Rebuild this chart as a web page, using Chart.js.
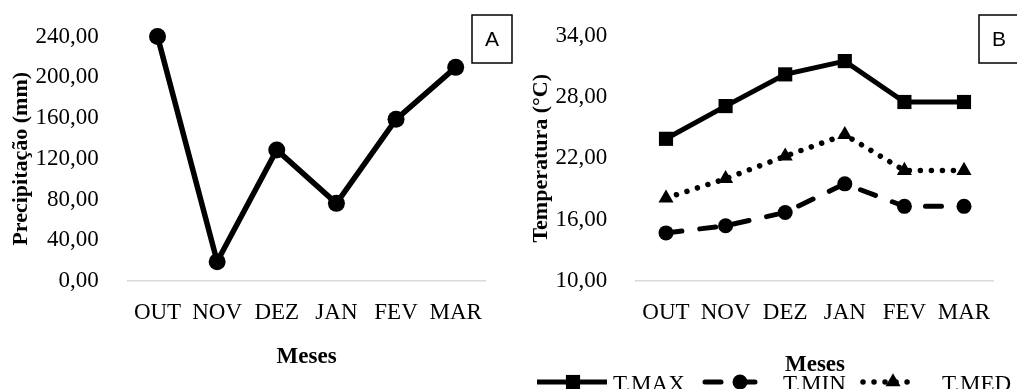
<!DOCTYPE html>
<html>
<head>
<meta charset="utf-8">
<script src="https://cdn.jsdelivr.net/npm/chart.js@4/dist/chart.umd.min.js"></script>
<style>
  html, body { margin: 0; padding: 0; background: #fff; overflow: hidden; }
  #wrapA { position: absolute; left: 0; top: 0; }
  #wrapB { position: absolute; left: 520px; top: 0; }
</style>
</head>
<body>
<div id="wrapA"><canvas id="chartA" width="520" height="389"></canvas></div>
<div id="wrapB"><canvas id="chartB" width="497" height="389"></canvas></div>
<script>
// dados
const meses = ["OUT", "NOV", "DEZ", "JAN", "FEV", "MAR"];
const precipitacao = [240, 19, 128.6, 76.2, 158.7, 209.7];
const tMax = [23.9, 27.1, 30.2, 31.5, 27.5, 27.5];
const tMin = [14.7, 15.4, 16.7, 19.5, 17.3, 17.3];
const tMed = [18.1, 20.0, 22.2, 24.3, 20.8, 20.8];
const precipEixo = [0, 240, 40];   // min, max, passo
const tempEixo = [10, 34, 6];

const serif = "'Liberation Serif', 'Times New Roman', serif";
const fmt = (v) => v.toFixed(2).replace(".", ",");

// caixa com a letra do painel (A / B)
const letterBox = {
  id: "letterBox",
  afterDraw(chart, args, opts) {
    const ctx = chart.ctx;
    ctx.save();
    ctx.fillStyle = "#fff";
    ctx.fillRect(opts.x, opts.y, opts.w, opts.h);
    ctx.lineWidth = 1.5;
    ctx.strokeStyle = "#000";
    ctx.strokeRect(opts.x, opts.y, opts.w, opts.h);
    ctx.font = "21px 'Liberation Sans', Arial, sans-serif";
    ctx.fillStyle = "#000";
    ctx.textAlign = "center";
    ctx.textBaseline = "middle";
    ctx.fillText(opts.text, opts.x + opts.w / 2, opts.y + opts.h / 2 + 1);
    ctx.restore();
  },
};

// legenda desenhada à mão (linha + marcador), como no Excel
const lineLegend = {
  id: "lineLegend",
  afterDraw(chart, args, opts) {
    const ctx = chart.ctx;
    ctx.save();
    chart.data.datasets.forEach((ds, i) => {
      const it = opts.items[i];
      const y = opts.y;
      ctx.strokeStyle = "#000";
      ctx.lineWidth = ds.borderWidth;
      ctx.lineCap = ds.borderCapStyle || "butt";
      ctx.setLineDash(ds.borderDash || []);
      ctx.beginPath();
      ctx.moveTo(it.x0, y);
      ctx.lineTo(it.x1, y);
      ctx.stroke();
      ctx.setLineDash([]);

      ctx.fillStyle = "#000";
      const r = ds.pointRadius;
      ctx.beginPath();
      if (ds.pointStyle === "rect") {
        const s = r * Math.SQRT1_2;
        ctx.rect(it.mx - s, y - s, 2 * s, 2 * s);
      } else if (ds.pointStyle === "triangle") {
        ctx.moveTo(it.mx, y - r);
        ctx.lineTo(it.mx + r * 0.866, y + r / 2);
        ctx.lineTo(it.mx - r * 0.866, y + r / 2);
        ctx.closePath();
      } else {
        ctx.arc(it.mx, y, r, 0, Math.PI * 2);
      }
      ctx.fill();

      ctx.font = "23px " + serif;
      ctx.textAlign = "left";
      ctx.textBaseline = "alphabetic";
      ctx.fillText(ds.label, it.tx, opts.textY);
    });
    ctx.restore();
  },
};

function xScale(titlePad) {
  return {
    offset: true,
    grid: { display: false },
    border: { display: true, color: "#d9d9d9", width: 1.5 },
    ticks: { color: "#000", padding: 10, maxRotation: 0, autoSkip: false, font: { family: serif, size: 23 } },
    title: { display: true, text: "Meses", color: "#000", font: { family: serif, size: 23, weight: "bold" }, padding: { top: 0, bottom: titlePad } },
    afterFit(s) { s.height = 108; },
  };
}

function yScale(eixo, titulo, width) {
  return {
    min: eixo[0],
    max: eixo[1],
    grid: { display: false },
    border: { display: false },
    ticks: { stepSize: eixo[2], color: "#000", padding: 21, font: { family: serif, size: 23 }, callback: (v) => fmt(v) },
    title: { display: true, text: titulo, color: "#000", font: { family: serif, size: 22, weight: "bold" }, padding: { top: 8, bottom: 0 } },
    afterFit(s) { s.width = width; },
  };
}

new Chart(document.getElementById("chartA"), {
  type: "line",
  data: {
    labels: meses,
    datasets: [
      {
        label: "Precipitação",
        data: precipitacao,
        borderColor: "#000",
        backgroundColor: "#000",
        borderWidth: 5.5,
        pointRadius: 8.5,
        pointHoverRadius: 8.5,
        pointBorderWidth: 0,
        tension: 0,
        clip: false,
      },
    ],
  },
  options: {
    responsive: false,
    animation: false,
    layout: { padding: { top: 36.5, right: 34.5, bottom: 0, left: 0 } },
    plugins: {
      legend: { display: false },
      tooltip: { enabled: false },
      letterBox: { x: 472, y: 15, w: 40, h: 48, text: "A" },
    },
    scales: {
      x: xScale(18.5),
      y: yScale(precipEixo, "Precipitação (mm)", 127.7),
    },
  },
  plugins: [letterBox],
});

new Chart(document.getElementById("chartB"), {
  type: "line",
  data: {
    labels: meses,
    datasets: [
      {
        label: "T.MAX",
        data: tMax,
        borderColor: "#000",
        backgroundColor: "#000",
        borderWidth: 5,
        pointStyle: "rect",
        pointRadius: 10,
        pointHoverRadius: 10,
        pointBorderWidth: 0,
        clip: false,
      },
      {
        label: "T.MIN",
        data: tMin,
        borderColor: "#000",
        backgroundColor: "#000",
        borderWidth: 5,
        borderDash: [16, 18],
        borderCapStyle: "round",
        pointStyle: "circle",
        pointRadius: 7.5,
        pointHoverRadius: 7.5,
        pointBorderWidth: 0,
        clip: false,
      },
      {
        label: "T.MED",
        data: tMed,
        borderColor: "#000",
        backgroundColor: "#000",
        borderWidth: 5.5,
        borderDash: [0.01, 11],
        borderCapStyle: "round",
        pointStyle: "triangle",
        pointRadius: 8.7,
        pointHoverRadius: 8.7,
        pointBorderWidth: 0,
        clip: false,
      },
    ],
  },
  options: {
    responsive: false,
    animation: false,
    layout: { padding: { top: 35.5, right: 23.2, bottom: 0, left: 0 } },
    plugins: {
      legend: { display: false },
      tooltip: { enabled: false },
      letterBox: { x: 459, y: 15, w: 40, h: 48, text: "B" },
      lineLegend: {
        y: 382,
        textY: 391,
        items: [
          { x0: 17, x1: 87, mx: 53, tx: 93 },
          { x0: 185, x1: 250, mx: 220, tx: 263 },
          { x0: 343, x1: 393, mx: 373, tx: 422 },
        ],
      },
    },
    scales: {
      x: xScale(10),
      y: yScale(tempEixo, "Temperatura (°C)", 116.2),
    },
  },
  plugins: [letterBox, lineLegend],
});
</script>
</body>
</html>
